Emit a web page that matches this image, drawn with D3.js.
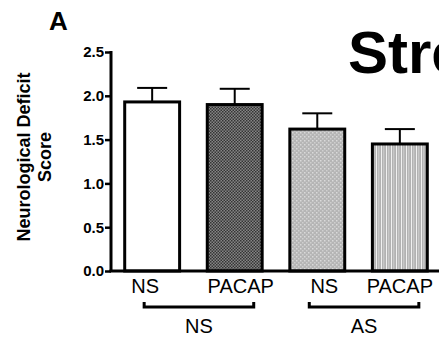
<!DOCTYPE html>
<html><head><meta charset="utf-8">
<script src="https://cdn.jsdelivr.net/npm/d3@7"></script>
<style>body{margin:0;background:#fff}svg{display:block}</style>
</head><body>
<script>
const categories = ["NS", "PACAP", "NS ", "PACAP "];
const tickLabels = ["NS", "PACAP", "NS", "PACAP"];
const values = [1.93, 1.90, 1.62, 1.45];
const errors = [0.16, 0.18, 0.18, 0.17];
const groups = [{label: "NS", from: 0, to: 1}, {label: "AS", from: 2, to: 3}];
const yTicks = [0, 0.5, 1.0, 1.5, 2.0, 2.5];

// layout constants (label nudges as in the original figure)
const labelNudge = [-7, 6, 7, 0];

const W = 439, H = 337;
const FONT = "Arial, 'Liberation Sans', Helvetica, sans-serif";
const svg = d3.select("body").append("svg").attr("width", W).attr("height", H)
  .style("font-family", FONT);

const defs = svg.append("defs");
const p1 = defs.append("pattern").attr("id", "pChk").attr("width", 3).attr("height", 3).attr("patternUnits", "userSpaceOnUse");
p1.append("rect").attr("width", 3).attr("height", 3).attr("fill", "#858585");
p1.append("rect").attr("x", 0).attr("y", 0).attr("width", 1.5).attr("height", 1.5).attr("fill", "#353535");
p1.append("rect").attr("x", 1.5).attr("y", 1.5).attr("width", 1.5).attr("height", 1.5).attr("fill", "#353535");
const p2 = defs.append("pattern").attr("id", "pDot").attr("width", 4).attr("height", 4).attr("patternUnits", "userSpaceOnUse");
p2.append("rect").attr("width", 4).attr("height", 4).attr("fill", "#b5b5b5");
p2.append("rect").attr("x", 0).attr("y", 0).attr("width", 1.5).attr("height", 1.5).attr("fill", "#dadada");
p2.append("rect").attr("x", 2).attr("y", 2).attr("width", 1.5).attr("height", 1.5).attr("fill", "#cfcfcf");
const p3 = defs.append("pattern").attr("id", "pStr").attr("width", 5).attr("height", 5).attr("patternUnits", "userSpaceOnUse");
p3.append("rect").attr("width", 5).attr("height", 5).attr("fill", "#b2b2b2");
p3.append("rect").attr("x", 1).attr("y", 0).attr("width", 1).attr("height", 5).attr("fill", "#f0f0f0");
p3.append("rect").attr("x", 3.5).attr("y", 0).attr("width", 0.7).attr("height", 5).attr("fill", "#dcdcdc");
const fills = ["#ffffff", "url(#pChk)", "url(#pDot)", "url(#pStr)"];

const x = d3.scaleBand().domain(categories).range([111, 441]).paddingInner(0.335).paddingOuter(0.166);
const y = d3.scaleLinear().domain([0, 2.5]).range([271, 52]);

svg.append("text").attr("x", 49).attr("y", 30).attr("font-size", 26).attr("font-weight", "bold").text("A");
svg.append("text").attr("x", 348).attr("y", 73).attr("font-size", 60).attr("font-weight", "bold").text("Stress");

const ylab = svg.append("g").attr("transform", "translate(0,157) rotate(-90)");
ylab.append("text").attr("x", 0).attr("y", 30).attr("text-anchor", "middle").attr("font-size", 18).attr("font-weight", "bold").text("Neurological Deficit");
ylab.append("text").attr("x", 0).attr("y", 51).attr("text-anchor", "middle").attr("font-size", 18).attr("font-weight", "bold").text("Score");

const yAxis = svg.append("g").attr("transform", "translate(111,0)")
  .call(d3.axisLeft(y).tickValues(yTicks).tickFormat(d3.format(".1f")).tickSize(6).tickPadding(1));
yAxis.select(".domain").attr("stroke", "#000").attr("stroke-width", 3).attr("d", `M0,${y(2.5) - 1}V${y(0)}`);
yAxis.selectAll(".tick line").attr("stroke", "#000").attr("stroke-width", 2.5);
yAxis.selectAll(".tick text").attr("font-size", 15).attr("font-weight", "bold").attr("fill", "#000")
  .attr("font-family", FONT);

const bw = x.bandwidth();
svg.selectAll("rect.bar").data(values).enter().append("rect").attr("class", "bar")
  .attr("x", (d, i) => x(categories[i]))
  .attr("y", d => y(d))
  .attr("width", bw)
  .attr("height", d => y(0) - y(d))
  .attr("fill", (d, i) => fills[i])
  .attr("stroke", "#000").attr("stroke-width", 3);

values.forEach((v, i) => {
  const cx = x(categories[i]) + bw / 2;
  svg.append("line").attr("x1", cx).attr("x2", cx).attr("y1", y(v)).attr("y2", y(v + errors[i]))
    .attr("stroke", "#000").attr("stroke-width", 2);
  svg.append("line").attr("x1", cx - 15).attr("x2", cx + 15).attr("y1", y(v + errors[i])).attr("y2", y(v + errors[i]))
    .attr("stroke", "#000").attr("stroke-width", 2);
});

svg.append("line").attr("x1", 109.5).attr("x2", W).attr("y1", y(0)).attr("y2", y(0))
  .attr("stroke", "#000").attr("stroke-width", 3);

tickLabels.forEach((t, i) => {
  svg.append("text").attr("x", x(categories[i]) + bw / 2 + labelNudge[i]).attr("y", 293).attr("text-anchor", "middle")
    .attr("font-size", 20).attr("fill", "#000").text(t);
});

groups.forEach(g => {
  const x1 = x(categories[g.from]) + bw / 2 - 8;
  const x2 = x(categories[g.to]) + bw / 2 + 19;
  const by = 307;
  svg.append("path").attr("d", `M${x1},${by - 5}V${by}H${x2}V${by - 5}`)
    .attr("fill", "none").attr("stroke", "#000").attr("stroke-width", 3);
  svg.append("text").attr("x", (x1 + x2) / 2).attr("y", 333).attr("text-anchor", "middle")
    .attr("font-size", 20).attr("fill", "#000").text(g.label);
});
</script>
</body></html>
